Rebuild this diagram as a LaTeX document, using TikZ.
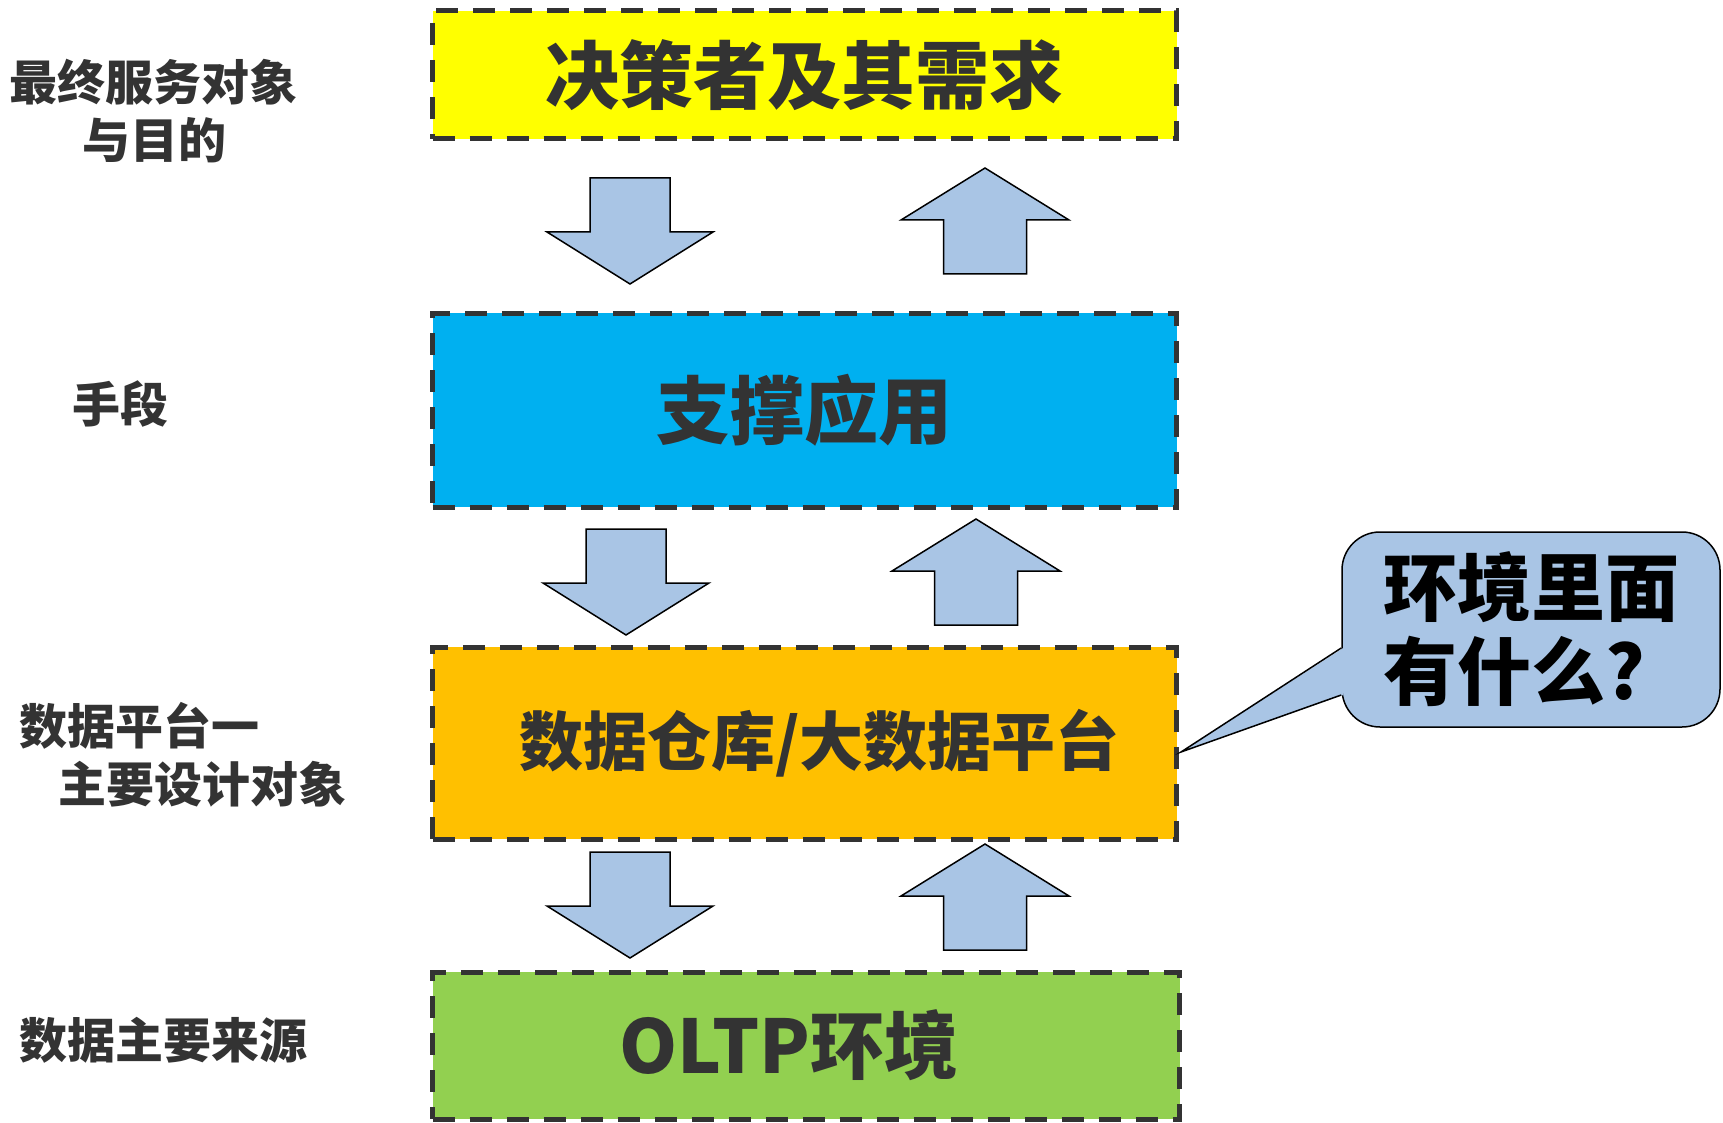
\documentclass[tikz,border=0pt]{standalone}
\usepackage{fontspec}
\newfontfamily\cjk{Noto Sans CJK SC}
\usetikzlibrary{calc}
\definecolor{dgray}{HTML}{333333}
\definecolor{arrowblue}{HTML}{A9C5E5}
\definecolor{lyellow}{HTML}{FFFF00}
\definecolor{lcyan}{HTML}{00B0F0}
\definecolor{lorange}{HTML}{FFC000}
\definecolor{lgreen}{HTML}{92D050}
\tikzset{
  layer/.style={draw=dgray, line width=2.5pt, dash pattern=on 11pt off 7.5pt, inner sep=0pt, text=dgray, font=\cjk\bfseries\fontsize{37}{44}\selectfont},
  side/.style={text=dgray, inner sep=0pt, font=\cjk\bfseries\fontsize{24}{29}\selectfont},
  blk/.style={draw=black, line width=0.75pt, fill=arrowblue, line join=miter},
  godown/.pic={\draw[blk] (-40,0) -- (40,0) -- (40,54) -- (83,54) -- (0,106) -- (-83,54) -- (-40,54) -- cycle;},
  goup/.pic={\draw[blk] (0,0) -- (84,52) -- (41.5,52) -- (41.5,106) -- (-41.5,106) -- (-41.5,52) -- (-84,52) -- cycle;}
}
\begin{document}
\begin{tikzpicture}[x=0.5pt, y=-0.5pt]
        \useasboundingbox (0,0) rectangle (1723,1123);
        % the four layers
        \node[layer, fill=lyellow, minimum width=372pt, minimum height=64pt] (dec) at (804.5,75) {决策者及其需求};
        \node[layer, fill=lcyan, minimum width=372pt, minimum height=97pt] (app) at (804.5,410) {支撑应用};
        \node[layer, fill=lorange, minimum width=372pt, minimum height=96pt, font=\cjk\bfseries\fontsize{32}{38}\selectfont] (dw) at (804.5,743) {\hspace*{15pt}数据仓库/大数据平台};
        \node[layer, fill=lgreen, minimum width=373.5pt, minimum height=73.5pt] (oltp) at (806,1045.5) {OLTP环境\hspace*{17pt}};
        % labels on the left
        \node[side, align=center] (goal) at (154,111.5) {最终服务对象\\与目的};
        \node[side] (means) at (120,404) {手段};
        \node[side, align=left, anchor=west] (plat) at (19,754.5) {数据平台一\\\hspace*{19.5pt}主要设计对象};
        \node[side, anchor=west] (src) at (19,1040) {数据主要来源};
        % block arrows between the layers
        \foreach \dx/\dy/\ux/\uy in {630/178/985/168, 626/529/976/519, 630/852/985/844}{
            \pic at (\dx,\dy) {godown};
            \pic at (\ux,\uy) {goup};
        }
        % callout
        \node[draw=black, line width=0.75pt, fill=arrowblue, rounded corners=19pt, minimum width=189pt, minimum height=97.5pt, align=left, font=\cjk\bfseries\fontsize{37}{42}\selectfont] (q) at (1531,629.5) {环境里面\\有什么?};
        \coordinate (tip) at ($(dw.east)+(2,9)$);
        \fill[arrowblue] ($(q.west)+(2,18.5)$) -- (tip) -- ($(q.west)+(2,65.5)$) -- cycle;
        \draw[line width=0.75pt] ($(q.west)+(0,18.5)$) -- (tip) -- ($(q.west)+(0,65.5)$);
\end{tikzpicture}
\end{document}
